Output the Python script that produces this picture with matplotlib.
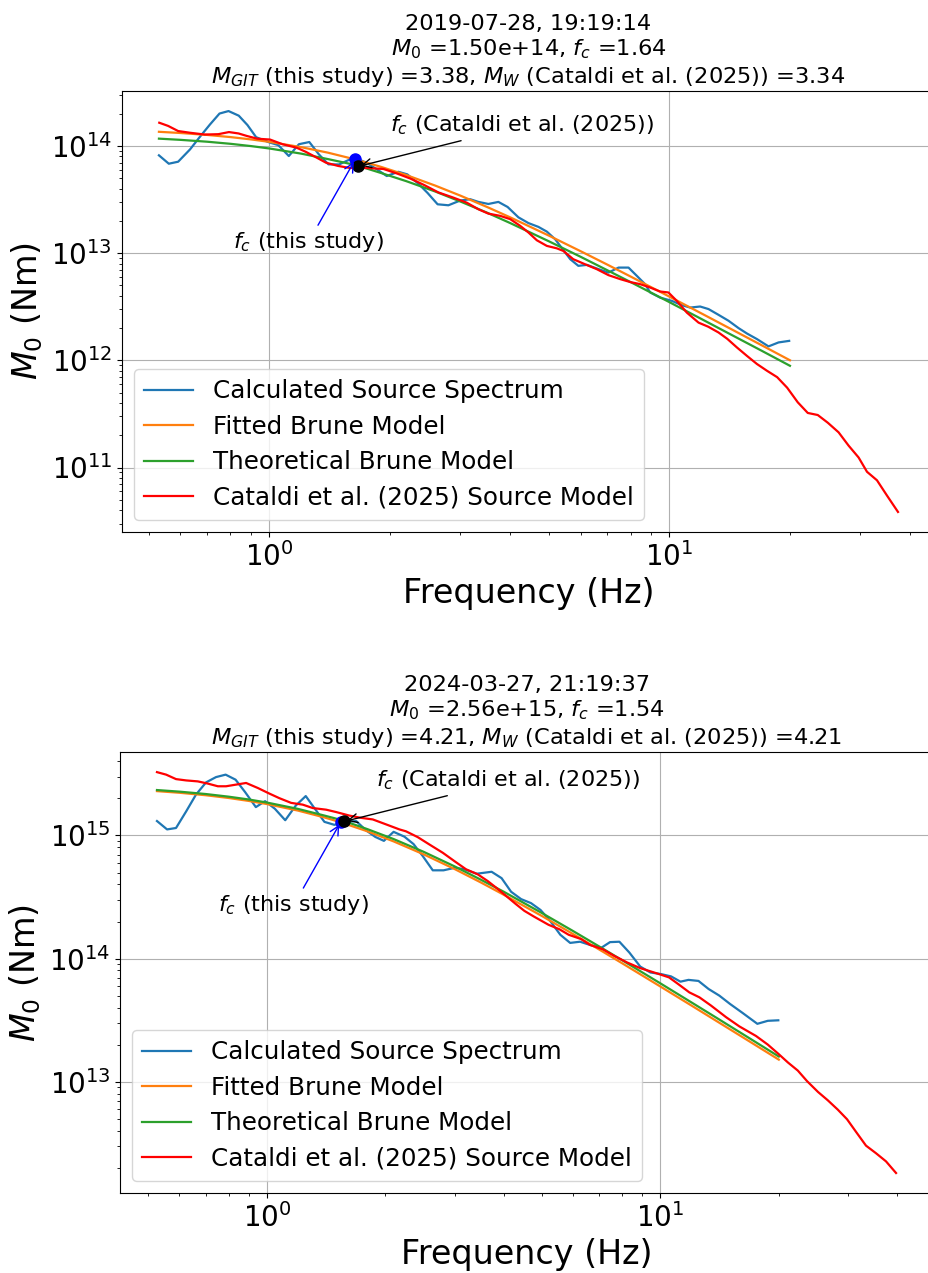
import matplotlib
matplotlib.use('Agg')
import matplotlib.pyplot as plt

# ---- event 1 : 2019-07-28 ----
top_title = ('2019-07-28, 19:19:14\n'
             '$M_0$ =1.50e+14, $f_c$ =1.64\n'
             '$M_{GIT}$ (this study) =3.38, $M_W$ (Cataldi et al. (2025)) =3.34')

top_spec_f = [0.530, 0.561, 0.592, 0.634, 0.671, 0.711, 0.751, 0.791, 0.839, 0.882,
              0.927, 0.994, 1.053, 1.119, 1.186, 1.259, 1.330, 1.405, 1.494, 1.591,
              1.686, 1.754, 1.856, 1.966, 2.101, 2.213, 2.358, 2.486, 2.634, 2.803,
              2.999, 3.177, 3.331, 3.528, 3.737, 3.940, 4.194, 4.442, 4.705, 4.938,
              5.18, 5.43, 5.65, 5.92, 6.22, 6.65, 7.04, 7.46, 7.90, 8.29,
              8.69, 8.95, 9.48, 10.14, 10.74, 11.27, 11.93, 12.52, 13.26, 14.05,
              14.88, 15.62, 16.54, 17.68, 18.73, 19.91]
top_spec_m = [8.19e13, 6.84e13, 7.14e13, 9.31e13, 1.22e14, 1.59e14, 2.01e14, 2.12e14, 1.92e14, 1.57e14,
              1.21e14, 1.09e14, 1.02e14, 8.07e13, 1.04e14, 1.09e14, 8.37e13, 6.75e13, 6.73e13, 7.51e13,
              7.41e13, 6.95e13, 6.07e13, 5.25e13, 5.75e13, 5.44e13, 4.45e13, 3.65e13, 2.86e13, 2.80e13,
              3.10e13, 3.19e13, 3.01e13, 2.88e13, 3.01e13, 2.70e13, 2.16e13, 1.91e13, 1.76e13, 1.59e13,
              1.35e13, 1.07e13, 8.79e12, 7.62e12, 7.78e12, 7.10e12, 6.59e12, 7.34e12, 7.34e12, 6.14e12,
              5.14e12, 4.30e12, 3.85e12, 3.59e12, 3.27e12, 3.11e12, 3.18e12, 3.01e12, 2.66e12, 2.34e12,
              2.00e12, 1.78e12, 1.58e12, 1.35e12, 1.47e12, 1.52e12]

top_model_f = [0.53, 0.6, 0.7, 0.8, 0.9, 1.0, 1.2, 1.4, 1.64, 1.9, 2.2, 2.6,
               3.0, 3.5, 4.0, 5.0, 6.0, 7.0, 8.0, 10.0, 12.0, 14.0, 17.0, 20.0]
top_fit_m = [1.358e14, 1.323e14, 1.269e14, 1.212e14, 1.153e14, 1.094e14, 9.77e13, 8.68e13,
             7.50e13, 6.40e13, 5.36e13, 4.27e13, 3.45e13, 2.70e13, 2.16e13, 1.457e13,
             1.043e13, 7.81e12, 6.05e12, 3.93e12, 2.75e12, 2.03e12, 1.383e12, 1.002e12]
top_theo_m = [1.172e14, 1.142e14, 1.097e14, 1.049e14, 9.99e13, 9.49e13, 8.50e13, 7.56e13,
              6.66e13, 5.61e13, 4.70e13, 3.76e13, 3.04e13, 2.39e13, 1.91e13, 1.29e13,
              9.25e12, 6.92e12, 5.37e12, 3.49e12, 2.44e12, 1.80e12, 1.229e12, 8.90e11]

top_cat_f = [0.531, 0.559, 0.592, 0.634, 0.690, 0.746, 0.793, 0.838, 0.880, 0.934,
             1.004, 1.079, 1.171, 1.236, 1.309, 1.386, 1.486, 1.591, 1.752, 1.928,
             2.083, 2.249, 2.437, 2.646, 2.884, 3.116, 3.331, 3.528, 3.776, 3.999,
             4.236, 4.442, 4.662, 4.938, 5.23, 5.43, 5.75, 6.15, 6.58, 7.04,
             7.53, 7.98, 8.45, 8.95, 9.48, 9.94, 10.43, 11.05, 11.82, 12.50,
             13.26, 13.94, 14.74, 15.62, 16.54, 17.52, 18.58, 19.68, 20.92, 22.16,
             23.47, 24.86, 26.46, 28.03, 29.69, 31.16, 33.00, 34.96, 37.24]
top_cat_m = [1.65e14, 1.54e14, 1.38e14, 1.33e14, 1.28e14, 1.29e14, 1.35e14, 1.31e14, 1.24e14, 1.17e14,
             1.15e14, 1.04e14, 9.64e13, 8.80e13, 7.85e13, 6.99e13, 6.52e13, 6.24e13, 6.24e13, 6.11e13,
             5.55e13, 4.98e13, 4.33e13, 3.69e13, 3.30e13, 2.96e13, 2.57e13, 2.34e13, 2.23e13, 2.08e13,
             1.80e13, 1.56e13, 1.32e13, 1.17e13, 1.11e13, 1.05e13, 8.79e12, 7.89e12, 7.10e12, 6.24e12,
             5.73e12, 5.38e12, 5.14e12, 4.78e12, 4.39e12, 4.30e12, 3.59e12, 2.79e12, 2.25e12, 2.06e12,
             1.82e12, 1.59e12, 1.32e12, 1.10e12, 9.25e11, 8.00e11, 6.97e11, 5.56e11, 4.06e11, 3.23e11,
             3.09e11, 2.62e11, 2.13e11, 1.60e11, 1.24e11, 9.12e10, 7.60e10, 5.47e10, 3.85e10]

top_fc_this = (1.64, 7.50e13)
top_fc_cat = (1.667, 6.45e13)

# ---- event 2 : 2024-03-27 ----
bot_title = ('2024-03-27, 21:19:37\n'
             '$M_0$ =2.56e+15, $f_c$ =1.54\n'
             '$M_{GIT}$ (this study) =4.21, $M_W$ (Cataldi et al. (2025)) =4.21')

bot_spec_f = [0.526, 0.558, 0.588, 0.624, 0.661, 0.701, 0.743, 0.786, 0.833, 0.881,
              0.938, 0.990, 1.048, 1.114, 1.185, 1.256, 1.321, 1.401, 1.485, 1.572,
              1.687, 1.788, 1.887, 1.984, 2.100, 2.237, 2.360, 2.491, 2.641, 2.813,
              3.009, 3.177, 3.418, 3.726, 3.950, 4.176, 4.428, 4.693, 4.962, 5.25,
              5.57, 5.90, 6.25, 6.63, 7.07, 7.45, 7.87, 8.34, 8.89, 9.43,
              10.04, 10.65, 11.25, 11.79, 12.50, 13.26, 14.12, 15.03, 16.19, 17.64,
              18.75, 19.94]
bot_spec_m = [1.31e15, 1.12e15, 1.15e15, 1.57e15, 2.15e15, 2.70e15, 2.98e15, 3.12e15, 2.84e15, 2.25e15,
              1.70e15, 1.90e15, 1.65e15, 1.33e15, 1.75e15, 2.09e15, 1.67e15, 1.29e15, 1.22e15, 1.28e15,
              1.31e15, 1.10e15, 9.73e14, 9.04e14, 1.07e15, 9.78e14, 8.51e14, 6.80e14, 5.21e14, 5.21e14,
              5.47e14, 5.31e14, 4.89e14, 5.07e14, 4.50e14, 3.49e14, 3.04e14, 2.82e14, 2.48e14, 2.02e14,
              1.56e14, 1.34e14, 1.37e14, 1.29e14, 1.22e14, 1.36e14, 1.37e14, 1.12e14, 8.61e13, 7.71e13,
              7.48e13, 7.16e13, 6.49e13, 6.71e13, 6.58e13, 5.66e13, 5.00e13, 4.28e13, 3.61e13, 2.95e13,
              3.12e13, 3.15e13]

bot_model_f = [0.526, 0.6, 0.7, 0.8, 0.9, 1.0, 1.2, 1.4, 1.54, 1.8, 2.1, 2.5,
               3.0, 3.5, 4.0, 5.0, 6.0, 7.0, 8.0, 10.0, 12.0, 14.0, 17.0, 20.0]
bot_fit_m = [2.292e15, 2.223e15, 2.122e15, 2.016e15, 1.908e15, 1.801e15, 1.593e15, 1.402e15,
             1.280e15, 1.082e15, 8.95e14, 7.04e14, 5.34e14, 4.15e14, 3.30e14, 2.218e14,
             1.582e14, 1.182e14, 9.15e13, 5.93e13, 4.15e13, 3.06e13, 2.084e13, 1.509e13]
bot_theo_m = [2.339e15, 2.270e15, 2.171e15, 2.066e15, 1.960e15, 1.852e15, 1.644e15, 1.452e15,
              1.340e15, 1.127e15, 9.35e14, 7.38e14, 5.61e14, 4.37e14, 3.49e14, 2.344e14,
              1.674e14, 1.251e14, 9.69e13, 6.29e13, 4.40e13, 3.25e13, 2.211e13, 1.600e13]

bot_cat_f = [0.526, 0.555, 0.588, 0.624, 0.668, 0.708, 0.751, 0.788, 0.836, 0.886,
             0.949, 1.015, 1.076, 1.153, 1.234, 1.309, 1.415, 1.500, 1.622, 1.736,
             1.859, 2.010, 2.173, 2.259, 2.419, 2.589, 2.801, 2.997, 3.209, 3.436,
             3.643, 3.825, 4.055, 4.300, 4.514, 4.777, 5.20, 5.54, 5.85, 6.29,
             6.63, 7.14, 7.64, 8.23, 8.88, 9.81, 10.52, 11.09, 11.85, 12.57,
             13.45, 14.69, 15.88, 17.50, 18.75, 19.96, 21.10, 22.35, 23.59, 25.16,
             26.63, 28.23, 29.81, 31.42, 33.31, 35.32, 37.45, 39.71]
bot_cat_m = [3.27e15, 3.12e15, 2.87e15, 2.80e15, 2.75e15, 2.64e15, 2.51e15, 2.51e15, 2.59e15, 2.67e15,
             2.43e15, 2.19e15, 2.01e15, 1.84e15, 1.78e15, 1.67e15, 1.62e15, 1.55e15, 1.45e15, 1.39e15,
             1.35e15, 1.23e15, 1.12e15, 1.08e15, 9.69e14, 8.45e14, 7.23e14, 6.19e14, 5.31e14, 4.83e14,
             4.26e14, 3.77e14, 3.23e14, 2.76e14, 2.44e14, 2.19e14, 1.88e14, 1.73e14, 1.56e14, 1.44e14,
             1.29e14, 1.19e14, 1.05e14, 9.30e13, 8.37e13, 7.57e13, 7.03e13, 6.22e13, 5.31e13, 4.84e13,
             4.15e13, 3.34e13, 2.81e13, 2.35e13, 2.00e13, 1.68e13, 1.43e13, 1.23e13, 1.01e13, 8.24e12,
             7.06e12, 5.93e12, 4.95e12, 3.91e12, 3.02e12, 2.62e12, 2.25e12, 1.81e12]

bot_fc_this = (1.54, 1.28e15)
bot_fc_cat = (1.574, 1.30e15)


def draw_panel(ax, title, spec_f, spec_m, model_f, fit_m, theo_m, cat_f, cat_m, fc_this, fc_cat):
    ax.loglog(spec_f, spec_m, color='C0', lw=1.6, label='Calculated Source Spectrum')
    ax.loglog(model_f, fit_m, color='C1', lw=1.6, label='Fitted Brune Model')
    ax.loglog(model_f, theo_m, color='C2', lw=1.6, label='Theoretical Brune Model')
    ax.loglog(cat_f, cat_m, color='red', lw=1.6, label='Cataldi et al. (2025) Source Model')

    # corner frequency markers
    ax.plot(*fc_this, 'bo', markersize=8)
    ax.plot(*fc_cat, 'ko', markersize=8)
    ax.annotate('$f_c$ (this study)', xy=fc_this, xytext=(-47, -83),
                textcoords='offset pixels', ha='center', va='center', fontsize=16,
                arrowprops=dict(arrowstyle='->', color='blue', lw=1))
    ax.annotate('$f_c$ (Cataldi et al. (2025))', xy=fc_cat, xytext=(164, 41),
                textcoords='offset pixels', ha='center', va='center', fontsize=16,
                arrowprops=dict(arrowstyle='->', color='black', lw=1))

    ax.set_title(title, fontsize=16.2)
    ax.set_xlabel('Frequency (Hz)', fontsize=24)
    ax.set_ylabel('$M_0$ (Nm)', fontsize=24)
    ax.tick_params(axis='both', which='major', labelsize=20)
    ax.grid(True)
    ax.legend(loc='lower left', fontsize=17.7, labelspacing=0.47)


fig = plt.figure(figsize=(9.29, 12.73), dpi=100)
ax1 = fig.add_axes([0.1313, 0.5821, 0.8751, 0.3464])
ax2 = fig.add_axes([0.1292, 0.0628, 0.8751, 0.3464])

draw_panel(ax1, top_title, top_spec_f, top_spec_m, top_model_f, top_fit_m, top_theo_m,
           top_cat_f, top_cat_m, top_fc_this, top_fc_cat)
draw_panel(ax2, bot_title, bot_spec_f, bot_spec_m, bot_model_f, bot_fit_m, bot_theo_m,
           bot_cat_f, bot_cat_m, bot_fc_this, bot_fc_cat)

fig.savefig('out.png', dpi=100)
plt.close(fig)
